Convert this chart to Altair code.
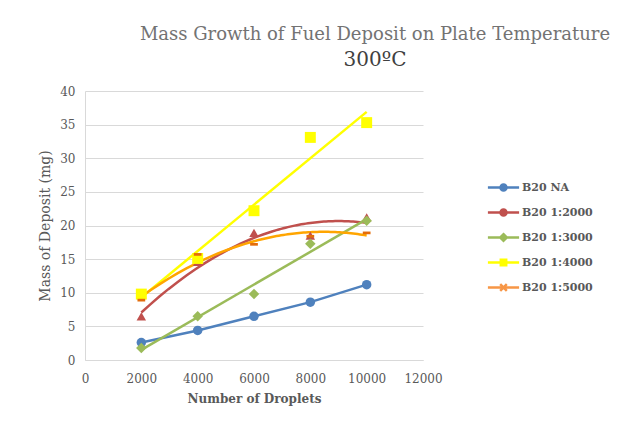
import altair as alt
import pandas as pd

# ---- data ----
droplets = [2000, 4000, 6000, 8000, 10000]
b20_na = [2.6, 4.4, 6.5, 8.6, 11.2]
b20_2000 = [6.5, 14.6, 18.9, 18.5, 21.2]
b20_3000 = [1.8, 6.5, 9.8, 17.3, 20.7]
b20_4000 = [9.8, 15.1, 22.2, 33.1, 35.3]
b20_5000 = [8.9, 15.7, 17.2, 18.4, 18.9]

series_names = ["B20 NA", "B20 1:2000", "B20 1:3000", "B20 1:4000", "B20 1:5000"]
series_values = [b20_na, b20_2000, b20_3000, b20_4000, b20_5000]

x_ticks = [0, 2000, 4000, 6000, 8000, 10000, 12000]
y_ticks = [0, 5, 10, 15, 20, 25, 30, 35, 40]

# ---- styles ----
marker_colors = ["#4F81BD", "#C0504D", "#9BBB59", "#FFFF00", "#E46C0A"]
line_colors = ["#4F81BD", "#C0504D", "#9BBB59", "#FFFF00", "#FFA500"]
legend_colors = ["#4F81BD", "#C0504D", "#9BBB59", "#FFFF00", "#F79646"]
line_kind = ["connect", "poly", "linear", "linear", "poly"]
marker_shapes = ["circle", "triangle-up", "diamond", "square", "M-1,-0.35H1V0.35H-1Z"]
marker_sizes = [90, 90, 110, 120, 60]

LINE = "M-2.6,0H2.6"
legend_paths = [
    LINE + "M-0.5,0A0.5,0.5,0,1,0,0.5,0A0.5,0.5,0,1,0,-0.5,0Z",
    LINE + "M-0.5,0A0.5,0.5,0,1,0,0.5,0A0.5,0.5,0,1,0,-0.5,0Z",
    LINE + "M0,-0.55L0.55,0L0,0.55L-0.55,0Z",
    LINE + "M-0.45,-0.45H0.45V0.45H-0.45Z",
    LINE + "M-0.55,-0.55L0.55,0.55M-0.55,0.55L0.55,-0.55",
]

rows = []
for name, vals in zip(series_names, series_values):
    for d, v in zip(droplets, vals):
        rows.append({"series": name, "droplets": d, "mass": v})
df = pd.DataFrame(rows)

FONT = "DejaVu Serif"

x_enc = alt.X(
    "droplets:Q",
    scale=alt.Scale(domain=[0, 12000], nice=False),
    axis=alt.Axis(values=x_ticks, format="d", title="Number of Droplets", grid=False,
                  ticks=False, labelPadding=13, titlePadding=9, titleFontWeight="bold",
                  titleFontSize=12, labelOverlap=False, labelFlush=False),
)
y_enc = alt.Y(
    "mass:Q",
    scale=alt.Scale(domain=[0, 40], nice=False),
    axis=alt.Axis(values=y_ticks, format="d", title="Mass of Deposit (mg)", grid=True,
                  ticks=False, labelPadding=10, titlePadding=7, titleFontWeight="normal",
                  titleFontSize=14, labelOverlap=False, labelFlush=False),
)

base = alt.Chart(df).encode(x=x_enc, y=y_enc)

line_layers = []
marker_layers = []
for i, name in enumerate(series_names):
    sub = base.transform_filter(alt.datum.series == name)
    if line_kind[i] == "linear":
        sub_line = sub.transform_regression("droplets", "mass")
    elif line_kind[i] == "poly":
        sub_line = sub.transform_regression("droplets", "mass", method="poly", order=2)
    else:
        sub_line = sub
    line_layers.append(sub_line.mark_line(color=line_colors[i], strokeWidth=2.5))
    marker_layers.append(
        sub.mark_point(filled=True, opacity=1, shape=marker_shapes[i],
                       size=marker_sizes[i], color=marker_colors[i])
    )

legend_layer = alt.Chart(df).transform_filter("false").mark_point(
    filled=True, opacity=1, strokeWidth=2.5
).encode(
    x=x_enc,
    y=y_enc,
    fill=alt.Fill("series:N", title=None,
                  scale=alt.Scale(domain=series_names, range=legend_colors)),
    stroke=alt.Stroke("series:N", title=None,
                      scale=alt.Scale(domain=series_names, range=legend_colors)),
    shape=alt.Shape("series:N", title=None,
                    scale=alt.Scale(domain=series_names, range=legend_paths)),
)

chart = alt.layer(*line_layers, *marker_layers, legend_layer).properties(
    width=338,
    height=269,
    autosize=alt.AutoSizeParams(type="none"),
    padding={"left": 77, "top": 83, "right": 191, "bottom": 53},
    title=alt.Title(
        "Mass Growth of Fuel Deposit on Plate Temperature",
        subtitle="300ºC",
        font=FONT, fontSize=18, fontWeight="normal", color="#737373",
        subtitleFont=FONT, subtitleFontSize=20, subtitleColor="#404040",
        anchor="middle", dx=121, offset=15, subtitlePadding=6,
    ),
).configure_view(stroke=None).configure_axis(
    domainColor="#d9d9d9", gridColor="#d9d9d9", gridWidth=1, domainWidth=1,
    labelFont=FONT, labelFontSize=12, labelColor="#595959",
    titleFont=FONT, titleColor="#595959",
).configure_legend(
    orient="none", legendX=411, legendY=89, padding=0,
    labelFont=FONT, labelFontSize=11, labelFontWeight="bold", labelColor="#595959",
    symbolSize=144, symbolStrokeWidth=2.5, labelOffset=11, rowPadding=8,
)

chart.save("out.html", embed_options={"renderer": "svg", "actions": False})
